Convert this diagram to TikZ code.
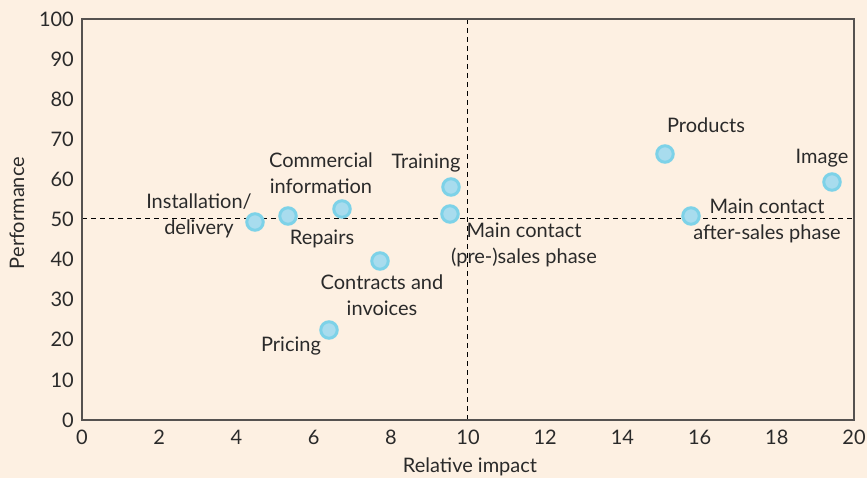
\documentclass[tikz,border=0pt]{standalone}
\usepackage{fontspec}
\setmainfont{Lato}
\definecolor{bg}{HTML}{FDF0E2}
\definecolor{frame}{HTML}{555250}
\definecolor{dotfill}{HTML}{A8DCEE}
\definecolor{dotline}{HTML}{7DD2E8}
\definecolor{txt}{HTML}{2A2A2A}
\begin{document}
\begin{tikzpicture}[x=1pt,y=-1pt,
  lbl/.style={font=\fontsize{20}{26}\selectfont, text=txt, align=center, inner sep=0pt},
  ytick/.style={font=\fontsize{20}{22}\selectfont, text=txt, anchor=east, inner sep=0pt},
  xtick/.style={font=\fontsize{20}{22}\selectfont, text=txt, inner sep=0pt},
  dot/.style={circle, draw=dotline, fill=dotfill, line width=3pt, minimum size=16.5pt, inner sep=0pt},
  guide/.style={dash pattern=on 5pt off 4pt, line width=0.9pt, black}]
\fill[bg] (0,0) rectangle (867,478);
\useasboundingbox (0,0) rectangle (867,478);
% dashed guides
\draw[guide] (82,218.5) -- (854,218.5);
\draw[guide] (467.5,19) -- (467.5,420);
% frame
\draw[frame, line width=1.8pt] (82,19) rectangle (854,420);
% y ticks
\foreach \v [count=\i from 0] in {0,10,...,100} {
  \node[ytick] (yt\i) at (74,{420-\v*4.01}) {\v};
}
% x ticks
\foreach \v [count=\i from 0] in {0,2,...,20} {
  \node[xtick] (xt\i) at ({82+\v*38.6},437) {\v};
}
\node[xtick] (xlab) at (470,467) {Relative impact};
\node[xtick, rotate=90] (ylab) at (17,213) {Performance};
% points
\node[dot] (inst) at (255,222) {};
\node[dot] (rep) at (288,216) {};
\node[dot] (com) at (342,209) {};
\node[dot] (tra) at (451,187) {};
\node[dot] (mcp) at (450,214) {};
\node[dot] (con) at (380,261) {};
\node[dot] (pri) at (329,330) {};
\node[dot] (pro) at (665,154) {};
\node[dot] (img) at (832,182) {};
\node[dot] (mca) at (691,216) {};
% labels
\node[lbl] (linst) at (199,216) {Installation/\\delivery};
\node[lbl] (lcom) at (321,173) {Commercial\\information};
\node[lbl] (ltra) at (426,163) {Training};
\node[lbl] (lrep) at (322,239) {Repairs};
\node[lbl] (lmcp) at (524,245) {Main contact\\(pre-)sales phase};
\node[lbl] (lcon) at (382,295) {Contracts and\\invoices};
\node[lbl] (lpri) at (291,346) {Pricing};
\node[lbl] (lpro) at (706,125) {Products};
\node[lbl] (limg) at (822,158) {Image};
\node[lbl] (lmca) at (767,221) {Main contact\\after-sales phase};
\end{tikzpicture}
\end{document}
